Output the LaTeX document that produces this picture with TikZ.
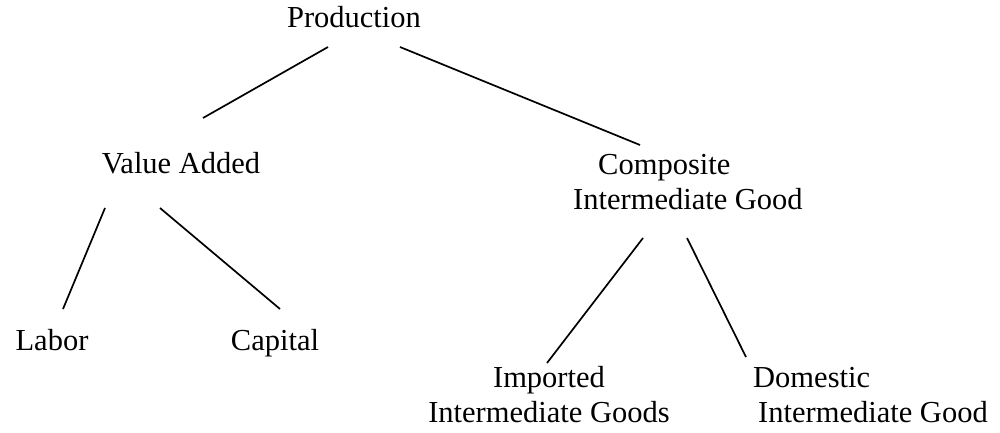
\documentclass[tikz,border=0pt]{standalone}
\usepackage{fontspec}
\setmainfont{Liberation Serif}
\usetikzlibrary{calc}
\begin{document}
\begin{tikzpicture}[x=1pt,y=-1pt,
  lbl/.style={inner sep=0pt,font=\fontsize{30.5}{35}\selectfont},
  edge/.style={line width=1.7pt,black}]
\useasboundingbox (0,0) rectangle (1000,432);
% base anchor of a multi-line node = baseline of its last line
\node[lbl,anchor=base] (prod) at (354,27) {Production};
\node[lbl,anchor=base] (va) at (181,173) {Value Added};
\node[lbl,anchor=base west,align=left] (comp) at (573,209) {\hspace*{25pt}Composite\\Intermediate Good};
\node[lbl,anchor=base] (lab) at (52,350) {Labor};
\node[lbl,anchor=base] (cap) at (275,350) {Capital};
\node[lbl,anchor=base,align=center] (imp) at (549,422) {Imported\\Intermediate Goods};
\node[lbl,anchor=base west,align=left] (dom) at (753,422) {Domestic\\\hspace*{5pt}Intermediate Good};
\draw[edge] ($(prod.base)+(-26,20)$) -- ($(va.base)+(22,-55)$);
\draw[edge] ($(prod.base)+(46,20)$) -- ($(comp.base west)+(67,-64)$);
\draw[edge] ($(va.base)+(-76,35)$) -- ($(lab.base)+(11,-41)$);
\draw[edge] ($(va.base)+(-21,35)$) -- ($(cap.base)+(5,-41)$);
\draw[edge] ($(comp.base west)+(70,29)$) -- ($(imp.base)+(-2,-59)$);
\draw[edge] ($(comp.base west)+(114,29)$) -- ($(dom.base west)+(-7,-65)$);
\end{tikzpicture}
\end{document}
